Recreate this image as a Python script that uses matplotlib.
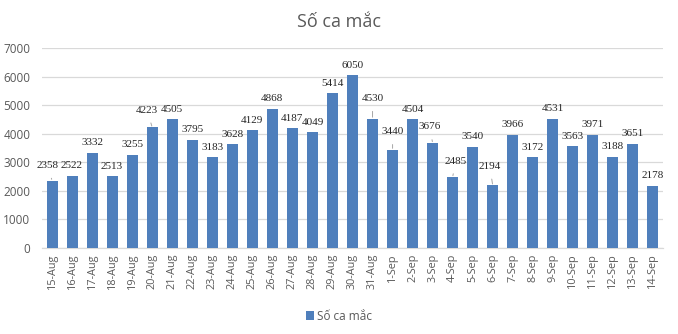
import matplotlib
matplotlib.use("Agg")
import matplotlib.pyplot as plt
import numpy as np

dates = ["15-Aug", "16-Aug", "17-Aug", "18-Aug", "19-Aug", "20-Aug", "21-Aug", "22-Aug",
         "23-Aug", "24-Aug", "25-Aug", "26-Aug", "27-Aug", "28-Aug", "29-Aug", "30-Aug",
         "31-Aug", "1-Sep", "2-Sep", "3-Sep", "4-Sep", "5-Sep", "6-Sep", "7-Sep", "8-Sep",
         "9-Sep", "10-Sep", "11-Sep", "12-Sep", "13-Sep", "14-Sep"]
cases = [2358, 2522, 3332, 2513, 3255, 4223, 4505, 3795, 3183, 3628, 4129, 4868, 4187,
         4049, 5414, 6050, 4530, 3440, 4504, 3676, 2485, 3540, 2194, 3966, 3172, 4531,
         3563, 3971, 3188, 3651, 2178]
series_name = "Số ca mắc"
yticks = [0, 1000, 2000, 3000, 4000, 5000, 6000, 7000]

# label offsets (pixels): index -> (dx, extra dy), drawn with leader lines
label_shift = {0: (-4, 5), 5: (-5, 7), 16: (0, 10), 17: (0, 8), 19: (-3, 6), 20: (3, 6), 22: (-3, 9)}

bar_color = "#4F7FBC"
grid_color = "#D9D9D9"
text_gray = "#595959"

W, H = 678, 334
fig = plt.figure(figsize=(W / 100, H / 100), dpi=100)
ax = fig.add_axes([42 / W, 1 - 248 / H, (663 - 42) / W, 200 / H])

x = np.arange(len(dates))
bars = ax.bar(x, cases, width=0.55, color=bar_color, zorder=3, label=series_name)

ax.set_xlim(-0.5, len(dates) - 0.5)
ax.set_ylim(0, 7000)
ax.set_yticks(yticks)
ax.set_yticklabels([str(v) for v in yticks], fontsize=8.5, color=text_gray, family="Open Sans")
ax.set_xticks(x)
ax.set_xticklabels(dates, rotation=90, fontsize=7.8, color=text_gray, family="Open Sans")
ax.tick_params(axis="both", length=0, pad=4)
ax.tick_params(axis="y", pad=8.5)
ax.grid(axis="y", color=grid_color, linewidth=0.9, zorder=0)
for s in ["top", "right", "left"]:
    ax.spines[s].set_visible(False)
ax.spines["bottom"].set_color(grid_color)
ax.spines["bottom"].set_linewidth(0.9)

for i, v in enumerate(cases):
    dx, dy = label_shift.get(i, (0, 0))
    if i in label_shift:
        ax.annotate(str(v), xy=(i, v), xytext=(dx * 0.72, (10 + dy) * 0.72),
                    textcoords="offset points", ha="center", va="center",
                    fontsize=8, family="Liberation Serif", color="#262626",
                    arrowprops=dict(arrowstyle="-", color="#A6A6A6", lw=0.7,
                                    shrinkA=4, shrinkB=1))
    else:
        ax.annotate(str(v), xy=(i, v), xytext=(0, 10 * 0.72),
                    textcoords="offset points", ha="center", va="center",
                    fontsize=8, family="Liberation Serif", color="#262626")

fig.text(339 / W, 1 - 22 / H, series_name, ha="center", va="center", fontsize=13,
         color=text_gray, family="Open Sans")

leg = fig.legend(handles=[bars], labels=[series_name], loc="center",
                 bbox_to_anchor=(339 / W, 1 - 316 / H), frameon=False,
                 prop={"family": "Open Sans", "size": 8.5}, handlelength=0.7,
                 handleheight=0.7, handletextpad=0.3)
for t in leg.get_texts():
    t.set_color(text_gray)

fig.savefig("out.png", dpi=100)
